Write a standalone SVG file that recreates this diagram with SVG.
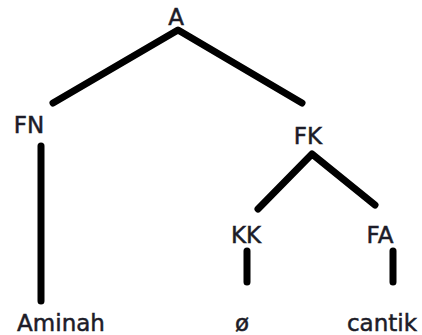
<svg xmlns="http://www.w3.org/2000/svg" width="422" height="335" viewBox="0 0 422 335">
<style>
text{font-family:"DejaVu Sans",Verdana,sans-serif;font-size:23px;fill:#1c1c28;stroke:#1c1c28;stroke-width:0.5;text-anchor:middle}
.e{stroke:#000;stroke-width:7;stroke-linecap:round;stroke-linejoin:round;fill:none}
</style>
<rect width="422" height="335" fill="#fff"/>
<g id="connectors">
<polyline class="e" points="53,103 178,30 302,103"/>
<line class="e" x1="41" y1="146" x2="41" y2="301"/>
<polyline class="e" points="258,209 312,154 375,205"/>
<line class="e" x1="247" y1="251" x2="247" y2="282"/>
<line class="e" x1="393" y1="251" x2="393" y2="282"/>
</g>
<g id="node-A"><text x="176" y="25">A</text></g>
<g id="node-FN"><text x="29" y="133">FN</text></g>
<g id="node-FK"><text x="308" y="144">FK</text></g>
<g id="node-KK"><text x="246" y="243">KK</text></g>
<g id="node-FA"><text x="380" y="243">FA</text></g>
<g id="node-Aminah"><text x="61" y="331">Aminah</text></g>
<g id="node-null"><text x="242" y="331">ø</text></g>
<g id="node-cantik"><text x="382" y="331">cantik</text></g>
</svg>
